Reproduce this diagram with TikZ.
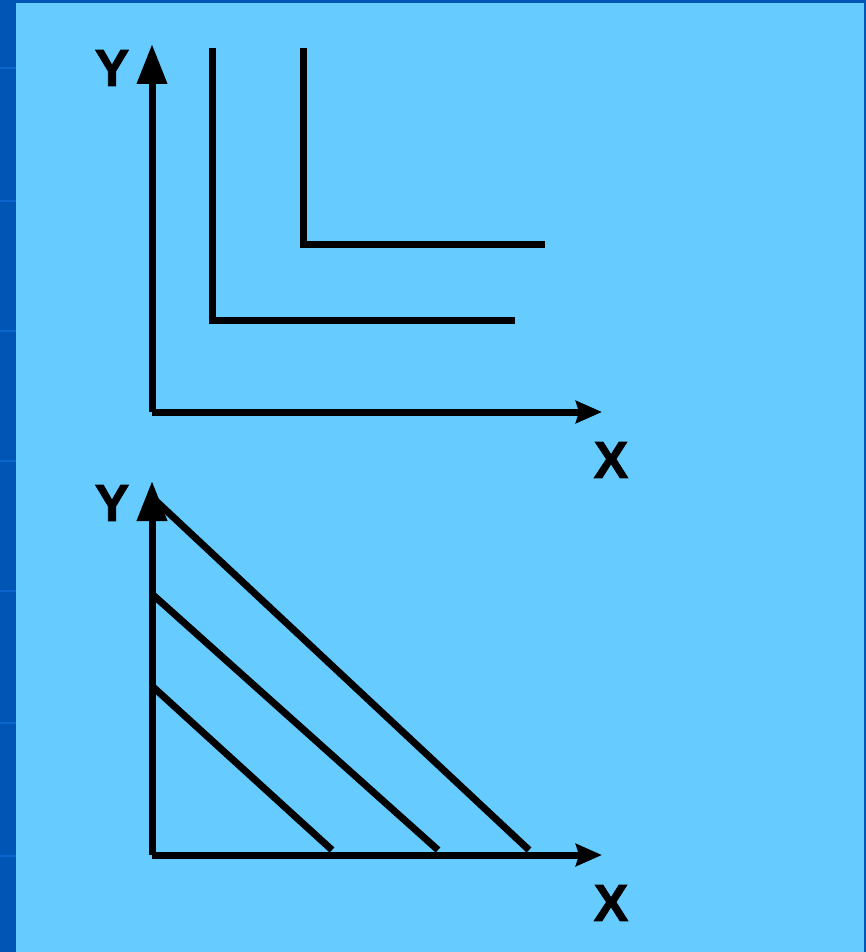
\documentclass[tikz,border=0pt]{standalone}
\usepackage{fontspec}
\setmainfont{Liberation Sans}
\newfontfamily\lblfont[FakeBold=1.5]{Liberation Sans Bold}
\usetikzlibrary{arrows.meta}
\definecolor{bgblue}{HTML}{66CCFF}
\definecolor{edgeblue}{HTML}{0055B5}
\definecolor{edgeline}{HTML}{0A66CC}
\tikzset{
  axisline/.style={line width=7pt},
  curve/.style={line width=7pt},
  yaxis/.style={axisline, -{Triangle[length=40pt,width=29pt]}},
  xaxis/.style={axisline, -{Stealth[length=26pt,width=22pt,inset=3pt]}},
  lbl/.style={font=\fontsize{52}{52}\lblfont, inner sep=0pt, anchor=center}
}
\begin{document}
\begin{tikzpicture}[x=1pt,y=-1pt]
\useasboundingbox (0,0) rectangle (866,952);
\fill[edgeblue] (0,0) rectangle (866,952);
\fill[bgblue] (16,3) rectangle (864,952);
\foreach \yy in {67,200,330,460,590,722,855}{
  \fill[edgeline] (0,\yy) rectangle (16,\yy+2);
}
% ---------- top chart ----------
\coordinate (o1) at (152,412);
\coordinate (y1) at (152,44);
\coordinate (x1) at (602,412);
\draw[yaxis] (o1) -- (y1);
\draw[xaxis] (o1) -- (x1);
\node[lbl] (Y1) at (112,68) {Y};
\node[lbl] (X1) at (611,460) {X};
% L-shaped curves
\coordinate (a1) at (212,48);
\coordinate (a2) at (212,320);
\coordinate (a3) at (515,320);
\coordinate (b1) at (303,48);
\coordinate (b2) at (303,244);
\coordinate (b3) at (545,244);
\draw[curve] (a1) -- (a2) -- (a3);
\draw[curve] (b1) -- (b2) -- (b3);
% ---------- bottom chart ----------
\coordinate (o2) at (152,855);
\coordinate (y2) at (152,481);
\coordinate (x2) at (602,855);
\draw[yaxis] (o2) -- (y2);
\draw[xaxis] (o2) -- (x2);
\node[lbl] (Y2) at (112,503) {Y};
\node[lbl] (X2) at (611,903) {X};
% budget lines
\coordinate (c1) at (155,500);
\coordinate (c2) at (529,850);
\coordinate (d1) at (152,594);
\coordinate (d2) at (438,850);
\coordinate (e1) at (152,686);
\coordinate (e2) at (332,850);
\draw[curve] (c1) -- (c2);
\draw[curve] (d1) -- (d2);
\draw[curve] (e1) -- (e2);
\end{tikzpicture}
\end{document}
